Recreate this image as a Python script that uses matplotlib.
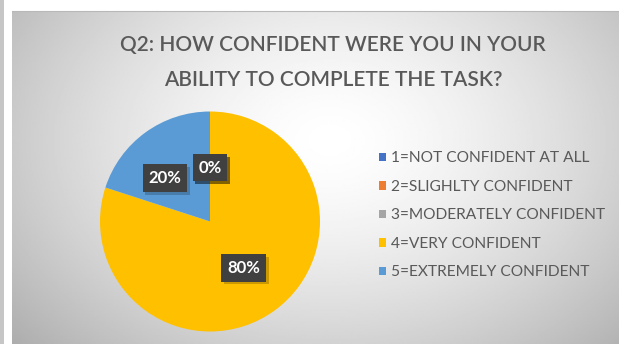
import numpy as np
import matplotlib
matplotlib.use("Agg")
import matplotlib.pyplot as plt
import matplotlib.patheffects as pe
from matplotlib.patches import Patch

plt.rcParams['font.family'] = ['Lato', 'DejaVu Sans']

# Survey responses (share of respondents)
categories = ["1=NOT CONFIDENT AT ALL", "2=SLIGHLTY CONFIDENT", "3=MODERATELY CONFIDENT",
              "4=VERY CONFIDENT", "5=EXTREMELY CONFIDENT"]
shares = [0, 0, 0, 80, 20]
colors = ["#4472C4", "#ED7D31", "#A5A5A5", "#FFC000", "#5B9BD5"]
title = "Q2: HOW CONFIDENT WERE YOU IN YOUR\nABILITY TO COMPLETE THE TASK?"

W, H = 619, 344
fig = plt.figure(figsize=(W / 100, H / 100), dpi=100)
fig.patch.set_facecolor("white")

def px_rect(x0, y0, w, h):
    """Axes rectangle given in pixels measured from the top-left corner."""
    return [x0 / W, 1 - (y0 + h) / H, w / W, h / H]

# neighbouring panel sliver on the far left
strip = fig.add_axes(px_rect(0, 0, 4, H))
strip.set_facecolor("#c6c6c6")
strip.set_xticks([]); strip.set_yticks([])
for s in strip.spines.values():
    s.set_visible(False)

# chart area with a soft radial gradient
bg = fig.add_axes(px_rect(12, 11, W - 12, H - 11))
gx, gy = np.meshgrid(np.linspace(12, W, 400), np.linspace(11, H, 240))
d = np.sqrt(((gx - 330) / 360) ** 2 + ((gy - 140) / 260) ** 2)
shade = np.clip(1.0 - 0.25 * np.clip(d, 0, 1.3) ** 1.5, 0, 1)
bg.imshow(shade, cmap="gray", vmin=0, vmax=1, aspect="auto",
          extent=(0, 1, 0, 1), interpolation="bilinear")
bg.set_xlim(0, 1); bg.set_ylim(0, 1)
bg.set_xticks([]); bg.set_yticks([])
for k, s in bg.spines.items():
    s.set_visible(k == "top")
bg.spines["top"].set_color("#b8b8b8")
bg.spines["top"].set_linewidth(0.8)

fig.text(333 / W, 1 - 62.5 / H, title, ha="center", va="center",
         fontsize=15, fontweight="semibold", color="#595959", linespacing=1.9)

# pie
r_px = 110
ax = fig.add_axes(px_rect(210 - r_px, 221.5 - r_px, 2 * r_px, 2 * r_px))
ax.set_facecolor("none")
wedges, _ = ax.pie(shares, colors=colors, startangle=90, counterclock=False,
                   radius=1, wedgeprops=dict(linewidth=0))
ax.set_xlim(-1, 1); ax.set_ylim(-1, 1)
ax.set_aspect("equal")
ax.axis("off")

# data labels: radial distance and angular nudge per slice
label_dist = [0.49, 0.49, 0.49, 0.52, 0.57]
label_nudge = [0, 0, 0, 0, 10]
total = sum(shares)
for w, v, dist, nudge in zip(wedges, shares, label_dist, label_nudge):
    mid = np.deg2rad((w.theta1 + w.theta2) / 2 + nudge)
    x, y = dist * np.cos(mid), dist * np.sin(mid)
    t = ax.text(x, y, f"{v / total * 100:.0f}%", ha="center", va="center",
                fontsize=12, fontweight="bold", color="white", zorder=5,
                bbox=dict(boxstyle="square,pad=0.35", fc="#404040", ec="none"))
    t.get_bbox_patch().set_path_effects(
        [pe.SimplePatchShadow(offset=(2, -2), shadow_rgbFace="black", alpha=0.2),
         pe.Normal()])

handles = [Patch(facecolor=c, edgecolor="none") for c in colors]
fig.legend(handles, categories, loc="upper left",
           bbox_to_anchor=(379 / W, 1 - 151.5 / H), frameon=False,
           fontsize=11.2, labelcolor="#595959", borderpad=0, borderaxespad=0,
           handlelength=0.48, handleheight=0.48, handletextpad=0.3,
           labelspacing=0.93)

fig.savefig("out.png", dpi=100)
